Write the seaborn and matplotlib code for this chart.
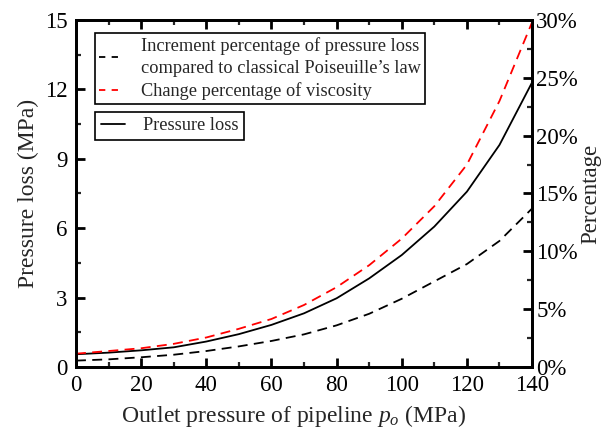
import numpy as np
import pandas as pd
import matplotlib
matplotlib.use("Agg")
import matplotlib.pyplot as plt
import seaborn as sns
from matplotlib.lines import Line2D
from matplotlib.ticker import MultipleLocator, FuncFormatter

# ---- data ----
outlet_pressure = [0, 10, 20, 30, 40, 50, 60, 70, 80, 90, 100, 110, 120, 130, 140]
pressure_loss = [0.55, 0.62, 0.72, 0.85, 1.10, 1.42, 1.82, 2.32, 2.97, 3.83, 4.84, 6.07, 7.58, 9.60, 12.30]
viscosity_change_pct = [1.15, 1.38, 1.62, 2.0, 2.55, 3.3, 4.15, 5.36, 6.9, 8.8, 11.1, 13.9, 17.5, 23.0, 29.8]
increment_pct = [0.55, 0.66, 0.84, 1.06, 1.38, 1.78, 2.25, 2.82, 3.6, 4.6, 5.9, 7.4, 8.9, 10.9, 13.7]

label_inc = "Increment percentage of pressure loss\ncompared to classical Poiseuille\u2019s law"
label_visc = "Change percentage of viscosity"
label_pl = "Pressure loss"

df = pd.DataFrame({
    "x": outlet_pressure,
    "pl": pressure_loss,
    "visc": viscosity_change_pct,
    "inc": increment_pct,
})

sns.set_theme(style="white")
plt.rcParams["font.family"] = ["Liberation Serif", "DejaVu Serif"]
plt.rcParams["mathtext.fontset"] = "custom"
plt.rcParams["mathtext.rm"] = "Liberation Serif"
plt.rcParams["mathtext.it"] = "Liberation Serif:italic"

fig = plt.figure(figsize=(6.06, 4.32), dpi=100)
ax = fig.add_axes([0.1254, 0.1505, 0.7526, 0.8032])
ax2 = ax.twinx()

dash = (0, (5.5, 3.5))
sns.lineplot(data=df, x="x", y="pl", ax=ax, color="black", lw=1.3, legend=False)
sns.lineplot(data=df, x="x", y="inc", ax=ax2, color="black", lw=1.3, linestyle=dash, legend=False)
sns.lineplot(data=df, x="x", y="visc", ax=ax2, color="#ff0000", lw=1.3, linestyle=dash, legend=False)

ax.set_xlim(0, 140)
ax.set_ylim(0, 15)
ax2.set_ylim(0, 30)

ax.xaxis.set_major_locator(MultipleLocator(20))
ax.xaxis.set_minor_locator(MultipleLocator(10))
ax.yaxis.set_major_locator(MultipleLocator(3))
ax.yaxis.set_minor_locator(MultipleLocator(1.5))
ax2.yaxis.set_major_locator(MultipleLocator(5))
ax2.yaxis.set_minor_locator(MultipleLocator(2.5))
ax2.yaxis.set_major_formatter(FuncFormatter(lambda v, p: f"{v:.0f}%"))

for a in (ax, ax2):
    for s in a.spines.values():
        s.set_linewidth(2.0)
        s.set_color("black")

ax.tick_params(axis="both", which="major", direction="in", length=6.5, width=2.0,
               labelsize=16.5, colors="black", top=True, bottom=True, left=True, right=False)
ax.tick_params(axis="both", which="minor", direction="in", length=3.5, width=1.6,
               top=True, bottom=True, left=True, right=False)
ax.tick_params(axis="x", pad=6)
ax.tick_params(axis="y", pad=6)
ax2.tick_params(axis="y", which="major", direction="in", length=6.5, width=2.0,
                labelsize=16.5, colors="black", right=True, left=False, pad=3)
ax2.tick_params(axis="y", which="minor", direction="in", length=3.5, width=1.6,
                right=True, left=False)

ax.set_xlabel(r"Outlet pressure of pipeline $\mathit{p}_{o}$ (MPa)", fontsize=17, labelpad=1)
ax.xaxis.set_label_coords(0.478, -0.105)
ax.set_ylabel("Pressure loss (MPa)", fontsize=17, labelpad=4)
ax2.set_ylabel("Percentage", fontsize=16.5, labelpad=2)

h1 = Line2D([], [], color="black", lw=1.3, linestyle=(0, (3.5, 3.5)))
h2 = Line2D([], [], color="#ff0000", lw=1.3, linestyle=(0, (3.5, 3.5)))
h3 = Line2D([], [], color="black", lw=1.3)

leg1 = ax2.legend([h1, h2], [label_inc, label_visc], loc="upper left",
                  bbox_to_anchor=(0.042, 0.962), fontsize=13.2, frameon=True,
                  fancybox=False, edgecolor="black", framealpha=1,
                  handlelength=1.35, handletextpad=0.95, borderpad=0.22,
                  labelspacing=0.3, borderaxespad=0)
for t in leg1.get_texts():
    t.set_linespacing(1.35)
leg1.get_frame().set_linewidth(1.2)
ax2.add_artist(leg1)
leg2 = ax2.legend([h3], [label_pl], loc="upper left",
                  bbox_to_anchor=(0.042, 0.735), fontsize=13.2, frameon=True,
                  fancybox=False, edgecolor="black", framealpha=1,
                  handlelength=1.35, handletextpad=0.95, borderpad=0.3,
                  borderaxespad=0)
leg2.get_frame().set_linewidth(1.2)

fig.savefig("out.png", dpi=100)
